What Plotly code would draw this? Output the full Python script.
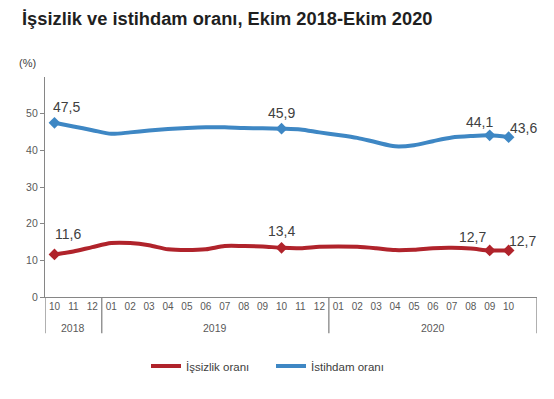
import plotly.graph_objects as go

title_text = "İşsizlik ve istihdam oranı, Ekim 2018-Ekim 2020"
months = ["10", "11", "12",
          "01", "02", "03", "04", "05", "06", "07", "08", "09", "10", "11", "12",
          "01", "02", "03", "04", "05", "06", "07", "08", "09", "10"]
years = ["2018", "2019", "2020"]
year_slots = [3, 12, 11]  # 2020 group includes one empty slot at the end

issizlik = [11.6, 12.4, 13.6, 14.7, 14.7, 14.1, 13.0, 12.8, 13.0, 13.9, 13.9, 13.8, 13.4,
            13.3, 13.7, 13.8, 13.7, 13.3, 12.8, 12.9, 13.3, 13.4, 13.2, 12.7, 12.7]
istihdam = [47.5, 46.5, 45.5, 44.5, 44.9, 45.4, 45.8, 46.1, 46.3, 46.3, 46.1, 46.0, 45.9,
            45.7, 44.9, 44.2, 43.4, 42.2, 41.1, 41.4, 42.5, 43.5, 43.9, 44.1, 43.6]
series_names = ["İşsizlik oranı", "İstihdam oranı"]
colors = ["#B0232B", "#3E87C4"]
label_idx = [0, 12, 23, 24]
# label offsets (px) per labelled point: (xshift, yshift)
label_shift_red = [(14, 20), (0, 17), (-17, 13), (14, 9)]
label_shift_blue = [(12, 16), (0, 16), (-10, 13), (15, 9)]

x = list(range(len(months)))
fig = go.Figure()

for vals, name, col, shifts in [(issizlik, series_names[0], colors[0], label_shift_red),
                                 (istihdam, series_names[1], colors[1], label_shift_blue)]:
    fig.add_trace(go.Scatter(x=x, y=vals, mode="lines", name=name,
                             line=dict(color=col, width=4, shape="spline", smoothing=0.8),
                             hoverinfo="skip"))
    fig.add_trace(go.Scatter(x=[x[i] for i in label_idx], y=[vals[i] for i in label_idx],
                             mode="markers", showlegend=False, hoverinfo="skip",
                             marker=dict(symbol="diamond", size=9, color=col)))
    for i, (dx, dy) in zip(label_idx, shifts):
        fig.add_annotation(x=x[i], y=vals[i], text=f"{vals[i]:.1f}".replace(".", ","),
                           showarrow=False, xshift=dx, yshift=dy,
                           font=dict(size=14, color="#404040", family="Liberation Sans"))

# year group dividers and labels
axis_col = "#868686"
bounds = [-0.5]
for c in year_slots:
    bounds.append(bounds[-1] + c)
for b in bounds:
    fig.add_shape(type="line", xref="x", yref="paper", x0=b, x1=b, y0=0, y1=-0.165,
                  line=dict(color=axis_col, width=1.3))
for yr, a, b in zip(years, bounds[:-1], bounds[1:]):
    fig.add_annotation(x=(a + b) / 2, y=-0.14, xref="x", yref="paper", text=yr,
                       showarrow=False, yanchor="middle",
                       font=dict(size=10.5, color="#595959", family="Liberation Sans"))

fig.add_annotation(x=(27 - 45) / 492, y=(297 - 63) / 220, xref="paper", yref="paper",
                   text="(%)", showarrow=False, xanchor="center", yanchor="middle",
                   font=dict(size=11, color="#404040", family="Liberation Sans"))

fig.update_layout(
    width=554, height=399,
    margin=dict(l=45, r=17, t=77, b=102),
    paper_bgcolor="white", plot_bgcolor="white",
    font=dict(family="Liberation Sans", color="#404040"),
    title=dict(text=f"<b>{title_text}</b>", x=22 / 554, xanchor="left",
               y=1 - 19 / 399, yanchor="middle",
               font=dict(size=18.3, color="#1f1f1f", family="Liberation Sans")),
    showlegend=True,
    legend=dict(orientation="h", x=(146 - 45) / 492, xanchor="left",
                y=(297 - 366) / 220, yanchor="middle",
                font=dict(size=11.5, color="#404040"), itemwidth=30, entrywidth=80,
                bgcolor="rgba(0,0,0,0)"),
    xaxis=dict(range=[-0.5, 25.5], tickmode="array", tickvals=x, ticktext=months,
               showline=True, linecolor=axis_col, linewidth=1.3, ticks="",
               showgrid=False, zeroline=False,
               tickfont=dict(size=10, color="#595959"), fixedrange=True),
    yaxis=dict(range=[0, 60], tickmode="array", tickvals=[0, 10, 20, 30, 40, 50],
               showline=True, linecolor=axis_col, linewidth=1.3, ticks="outside",
               ticklen=4, tickcolor=axis_col, showgrid=False, zeroline=False,
               tickfont=dict(size=10.5, color="#595959"), fixedrange=True),
)

fig.write_html("out.html", config={"displayModeBar": False},
               post_script="document.body.style.margin='0';")
